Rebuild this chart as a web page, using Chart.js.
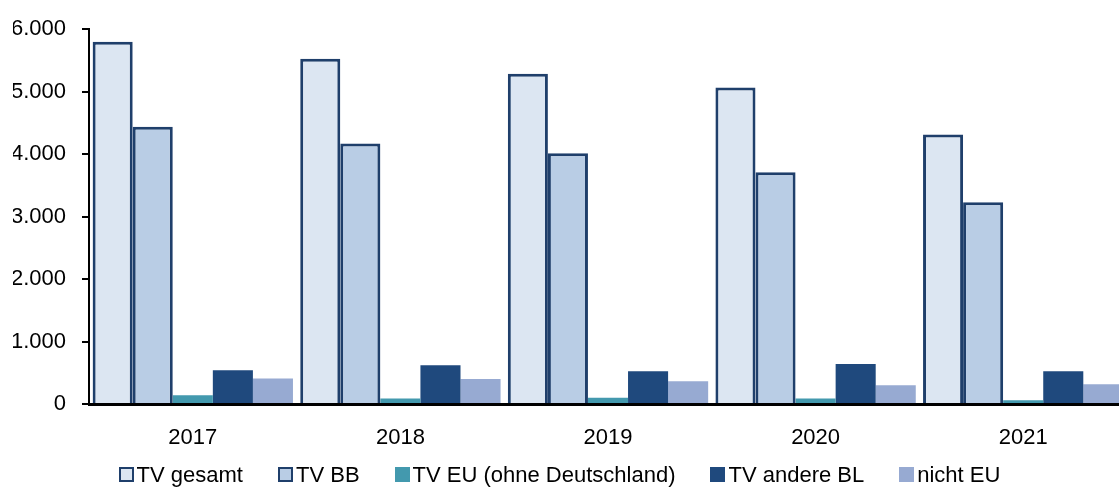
<!DOCTYPE html>
<html lang="de">
<head>
<meta charset="utf-8">
<title>TV Entwicklung 2017-2021</title>
<script src="https://cdn.jsdelivr.net/npm/chart.js@4.4.1/dist/chart.umd.min.js"></script>
<style>
  html, body { margin: 0; padding: 0; background: #fff; overflow: hidden; }
  body { width: 1119px; height: 487px; position: relative; font-family: "Liberation Sans", Arial, sans-serif; }
  #chart { position: absolute; left: 0; top: 0; }
  #legende {
    position: absolute; left: 0; top: 462px; width: 1119px;
    display: flex; justify-content: center; gap: 35px;
    font-size: 22px; color: #000; line-height: 25px;
  }
  .eintrag { display: flex; align-items: center; }
  .kasten { width: 15px; height: 15px; box-sizing: border-box; margin-right: 3px; }
</style>
</head>
<body>
<canvas id="chart" width="1127" height="487"></canvas>
<div id="legende"></div>
<script>
// Jahre (Kategorien)
const jahre = ['2017', '2018', '2019', '2020', '2021'];

// Werte je Reihe
const tvGesamt = [5800, 5525, 5285, 5065, 4315];
const tvBB = [4440, 4170, 4015, 3710, 3230];
const tvEU = [140, 90, 100, 90, 60];
const tvAndereBL = [540, 620, 525, 640, 525];
const nichtEU = [410, 400, 365, 300, 315];

// Y-Achse
const yTicks = [0, 1000, 2000, 3000, 4000, 5000, 6000];

const dunkelBlau = '#1F3F6B';
const schrift = '"Liberation Sans", Arial, sans-serif';

function tausender(v) {
    return String(v).replace(/\B(?=(\d{3})+(?!\d))/g, '.');
}

const reihen = [
    { label: 'TV gesamt', data: tvGesamt, backgroundColor: '#DCE6F2', borderColor: dunkelBlau, borderWidth: 3 },
    { label: 'TV BB', data: tvBB, backgroundColor: '#B9CDE5', borderColor: dunkelBlau, borderWidth: 3 },
    { label: 'TV EU (ohne Deutschland)', data: tvEU, backgroundColor: '#4399AE', borderColor: '#4399AE', borderWidth: 0 },
    { label: 'TV andere BL', data: tvAndereBL, backgroundColor: '#1F497D', borderColor: '#1F497D', borderWidth: 0 },
    { label: 'nicht EU', data: nichtEU, backgroundColor: '#97AAD2', borderColor: '#97AAD2', borderWidth: 0 }
];

const ctx = document.getElementById('chart').getContext('2d');
const chart = new Chart(ctx, {
    type: 'bar',
    data: {
        labels: jahre,
        datasets: reihen.map(r => ({
            label: r.label,
            data: r.data,
            backgroundColor: r.backgroundColor,
            borderColor: r.borderColor,
            borderWidth: r.borderWidth,
            borderSkipped: 'bottom',
            categoryPercentage: 0.965,
            barPercentage: 1.0
        }))
    },
    options: {
        responsive: false,
        animation: false,
        devicePixelRatio: 1,
        layout: { padding: { left: 13, top: 27, right: 0, bottom: 0 } },
        plugins: {
            legend: { display: false },
            tooltip: { enabled: false }
        },
        scales: {
            x: {
                afterFit: axis => { axis.height = 83; },
                grid: { display: false, drawTicks: false },
                border: { display: true, color: '#000', width: 3 },
                ticks: { color: '#000', padding: 21, font: { family: schrift, size: 22 } }
            },
            y: {
                min: 0,
                max: 6000,
                afterFit: axis => { axis.width = 76; },
                afterBuildTicks: axis => { axis.ticks = yTicks.map(v => ({ value: v })); },
                grid: { drawOnChartArea: false, drawTicks: true, tickLength: 7, color: '#000', lineWidth: 2 },
                border: { display: true, color: '#000', width: 2 },
                ticks: {
                    color: '#000',
                    padding: 16,
                    font: { family: schrift, size: 22 },
                    callback: v => tausender(v)
                }
            }
        }
    }
});

// Legende aus den Datensätzen
const legende = document.getElementById('legende');
chart.data.datasets.forEach(ds => {
    const eintrag = document.createElement('div');
    eintrag.className = 'eintrag';
    const kasten = document.createElement('span');
    kasten.className = 'kasten';
    kasten.style.background = ds.backgroundColor;
    kasten.style.border = ds.borderWidth ? '2px solid ' + ds.borderColor : 'none';
    const text = document.createElement('span');
    text.textContent = ds.label;
    eintrag.appendChild(kasten);
    eintrag.appendChild(text);
    legende.appendChild(eintrag);
});
</script>
</body>
</html>
